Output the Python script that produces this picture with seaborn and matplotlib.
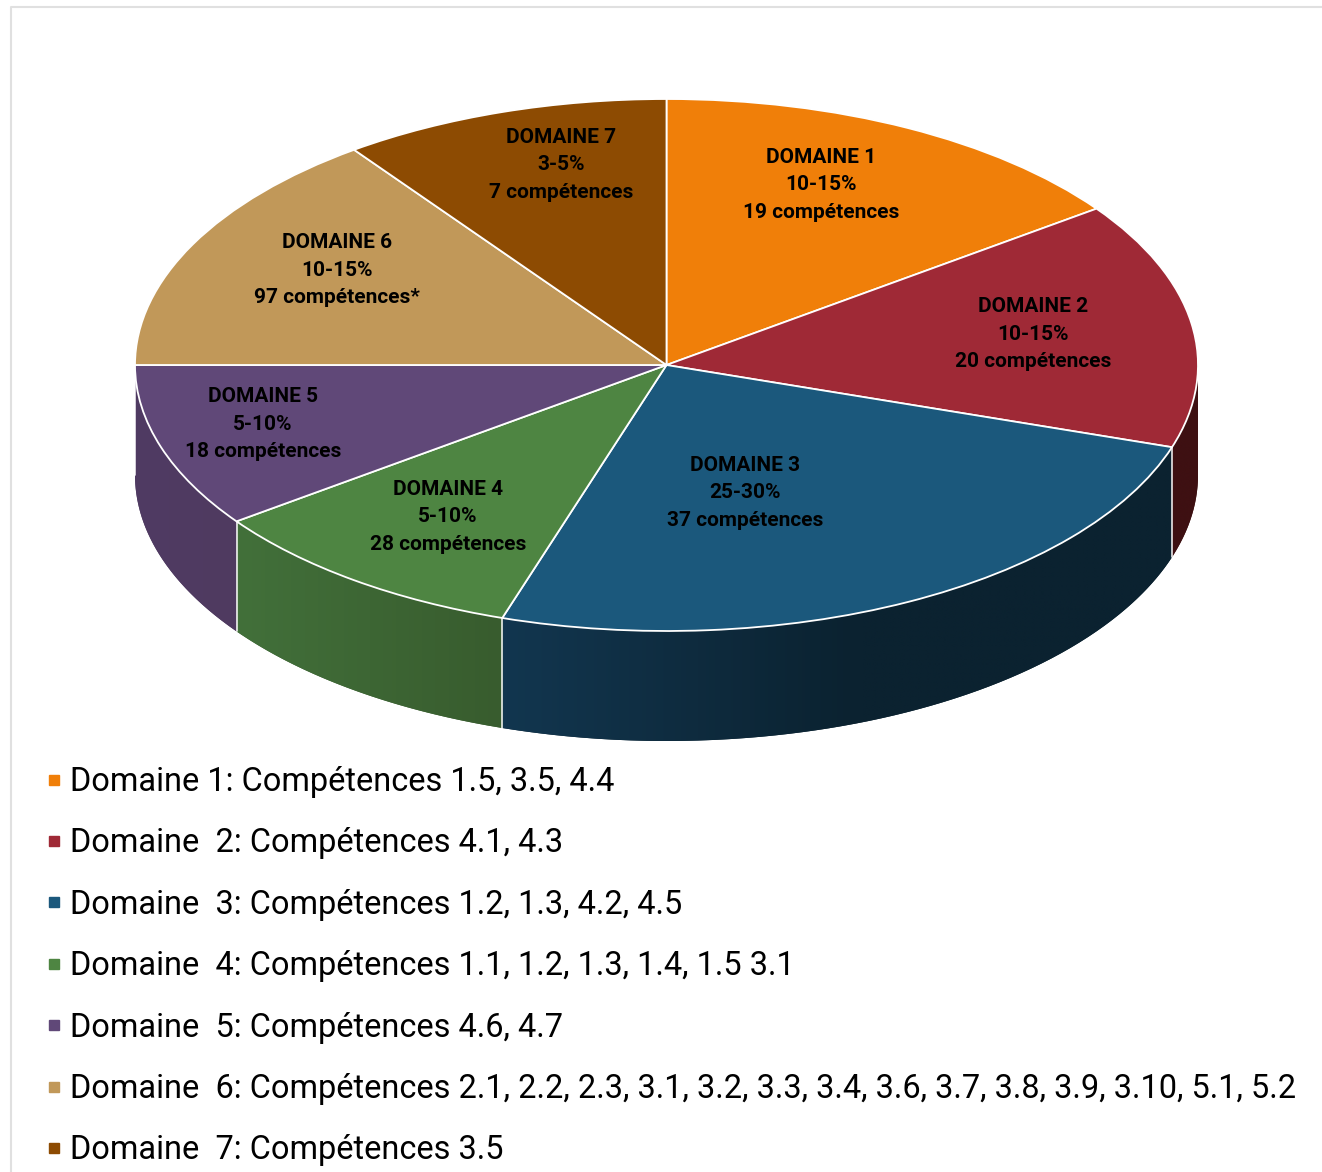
import numpy as np
import seaborn as sns
import matplotlib
matplotlib.use("Agg")
import matplotlib.pyplot as plt
from matplotlib.lines import Line2D
from matplotlib.path import Path
from matplotlib import font_manager as fm
from matplotlib.colors import to_rgb

# ---- data ----
shares = [15, 15, 25, 10, 10, 15, 10]
top_colors = ["#F07F09", "#9F2936", "#1B587C", "#4E8542", "#604878", "#C19859", "#8D4B02"]
side_left = ["#7a4005", "#3e1012", "#12364F", "#42703A", "#4F3A63", "#8a6c3f", "#5c3101"]
side_right = ["#7a4005", "#3e1012", "#0B2230", "#385C2E", "#503B60", "#8a6c3f", "#5c3101"]
shade_speed = [1.0, 1.0, 1.9, 1.0, 1.0, 1.0, 1.0]
slice_titles = ["DOMAINE 1", "DOMAINE 2", "DOMAINE 3", "DOMAINE 4", "DOMAINE 5", "DOMAINE 6", "DOMAINE 7"]
slice_ranges = ["10-15%", "10-15%", "25-30%", "5-10%", "5-10%", "10-15%", "3-5%"]
slice_counts = ["19 compétences", "20 compétences", "37 compétences", "28 compétences",
                "18 compétences", "97 compétences*", "7 compétences"]
label_x = [821, 1033, 745, 448, 263, 337, 561]
label_y = [185, 334, 493, 517, 424, 270, 165]
legend_labels = [
    "Domaine 1: Compétences 1.5, 3.5, 4.4",
    "Domaine  2: Compétences 4.1, 4.3",
    "Domaine  3: Compétences 1.2, 1.3, 4.2, 4.5",
    "Domaine  4: Compétences 1.1, 1.2, 1.3, 1.4, 1.5 3.1",
    "Domaine  5: Compétences 4.6, 4.7",
    "Domaine  6: Compétences 2.1, 2.2, 2.3, 3.1, 3.2, 3.3, 3.4, 3.6, 3.7, 3.8, 3.9, 3.10, 5.1, 5.2",
    "Domaine  7: Compétences 3.5",
]

W, H = 1322, 1172
CX, CY, RX, RY, DEPTH = 666.5, 365, 531.5, 266, 110

sns.set_theme(style="white")
plt.rcParams["font.family"] = ["Roboto", "DejaVu Sans"]

fig = plt.figure(figsize=(W / 100, H / 100), dpi=100, facecolor="white")
ax = fig.add_axes([0, 0, 1, 1])

# frame of the original picture
fig.add_artist(Line2D([11 / W, 11 / W, 1], [0, 1 - 7 / H, 1 - 7 / H], color="#e0e0e0", lw=1.5))

# side wall: one clipped horizontal gradient per slice
d = DEPTH / RY
fr = np.array(shares) / sum(shares)
edges = 90 - 360 * np.concatenate([[0], np.cumsum(fr)])
for i in range(len(shares)):
    th = np.radians(np.linspace(edges[i], edges[i + 1], 300))
    th = th[np.sin(th) <= 0.0]
    if len(th) < 2:
        continue
    x = np.cos(th)
    order = np.argsort(x)
    x, y = x[order], np.sin(th)[order]
    outline = np.vstack([np.column_stack([x, y]), np.column_stack([x[::-1], y[::-1] - d])])
    ax.fill(outline[:, 0], outline[:, 1], color=side_right[i], lw=0)
    t = np.minimum(1.0, np.linspace(0, 1, 64) * shade_speed[i])[None, :, None]
    grad = np.array(to_rgb(side_left[i]))[None, None, :] * (1 - t) + np.array(to_rgb(side_right[i]))[None, None, :] * t
    im = ax.imshow(grad, extent=[x.min(), x.max(), (y - d).min(), y.max()], aspect="auto",
                   interpolation="bilinear", zorder=1)
    im.set_clip_path(Path(outline), transform=ax.transData)
for a in edges[:-1]:
    if np.sin(np.radians(a)) < 0:
        xb, yb = np.cos(np.radians(a)), np.sin(np.radians(a))
        ax.plot([xb, xb], [yb, yb - d], color="white", lw=1.2, alpha=0.9, zorder=2)

wedges, _ = ax.pie(shares, colors=top_colors, startangle=90, counterclock=False, radius=1,
                   wedgeprops=dict(edgecolor="white", linewidth=1.3, zorder=3))
ax.set_aspect("auto")
ax.set_xlim(-CX / RX, (W - CX) / RX)
ax.set_ylim(-(H - CY) / RY, CY / RY)
ax.axis("off")

# slice labels
for tx, ty, a, b, c in zip(label_x, label_y, slice_titles, slice_ranges, slice_counts):
    fig.text(tx / W, 1 - ty / H, f"{a}\n{b}\n{c}", ha="center", va="center", color="black",
             family=["Roboto", "DejaVu Sans"], weight="bold", fontsize=15, linespacing=1.55)

# legend
handles = [Line2D([], [], marker="s", ls="", mfc=c, mec=c, ms=7.5) for c in top_colors]
leg = fig.legend(handles, legend_labels, loc="upper left",
                 bbox_to_anchor=(46 / W, 1 - 766 / H), frameon=False,
                 labelspacing=0.903, handlelength=0.5, handletextpad=0.24, borderpad=0, borderaxespad=0,
                 labelcolor="black", prop=fm.FontProperties(family="Roboto", size=23.45))
fig.savefig("out.png", dpi=100, facecolor="white")
